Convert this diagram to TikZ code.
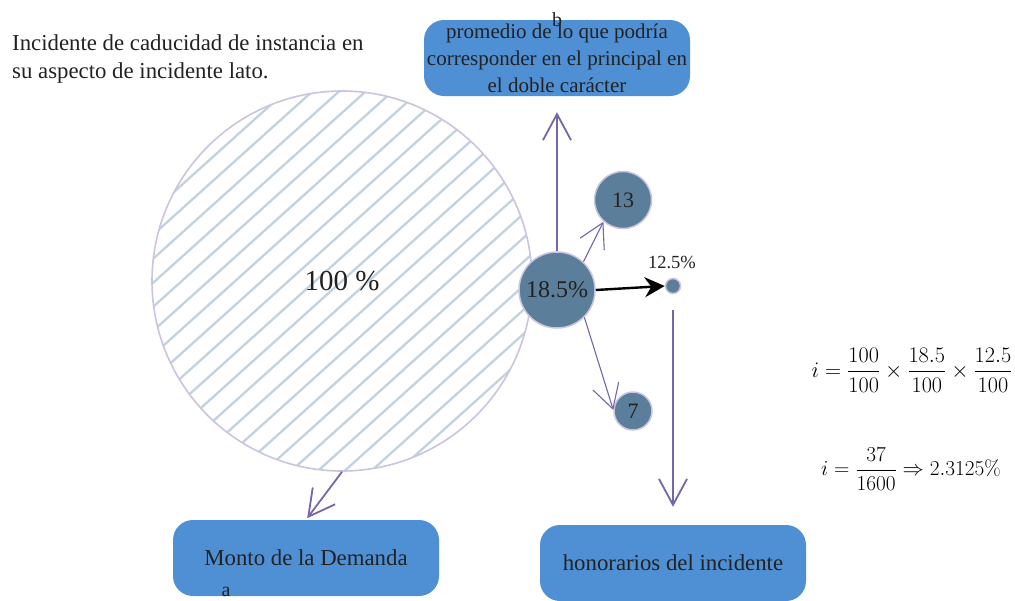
\RequirePackage{fix-cm}
\documentclass[tikz,border=0pt]{standalone}
\usepackage[no-math]{fontspec}
\setmainfont{Liberation Serif}
\usetikzlibrary{arrows.meta,calc}
\definecolor{boxblue}{HTML}{4F8FD4}
\definecolor{circfill}{HTML}{5B7E9B}
\definecolor{circline}{HTML}{CBC4E0}
\definecolor{arr}{HTML}{7466A9}
\definecolor{hatchc}{HTML}{C2D2DE}
\definecolor{txt}{HTML}{222222}
\begin{document}
\begin{tikzpicture}[x=1pt,y=-1pt,
  box/.style={rounded corners=20pt, fill=boxblue, minimum width=266pt, minimum height=76pt, inner sep=0pt, text=txt, align=center},
  bub/.style={circle, fill=circfill, draw=circline, line width=1.5pt, inner sep=0pt, text=txt},
  barb/.style={draw=arr, line width=1.8pt, -{Straight Barb[length=26pt,width=28pt]}},
  thinbarb/.style={draw=arr, line width=1.1pt, -{Straight Barb[length=24pt,width=27pt]}},
  lbl/.style={text=txt, inner sep=0pt, font=\fontsize{20}{24}\selectfont}]
\useasboundingbox (0,0) rectangle (1015,600);
\fill[white] (0,0) rectangle (1015,600);

% title
\node[anchor=west, align=left, inner sep=0pt, text=txt, font=\fontsize{22.8}{28}\selectfont] (title) at (12,59)
  {Incidente de caducidad de instancia en\\su aspecto de incidente lato.};

% big circle with hatching
\begin{scope}
  \clip (342,281) circle (190);
  \foreach \k in {-16,...,16} {
    \draw[hatchc, line width=2.3pt] ($(342,281)+(\k*26.7,0)+(-260,234)$) -- ++(520,-468);
  }
\end{scope}
\node[circle, draw=circline, line width=1.6pt, minimum size=380pt, inner sep=0pt, text=txt, font=\fontsize{29}{32}\selectfont] (big) at (342,281) {100 \%};

% boxes
\node[box, font=\fontsize{21}{27}\selectfont] (boxb) at (557,58) {promedio de lo que podría\\corresponder en el principal en\\el doble carácter};
\node[box, font=\fontsize{22.8}{26}\selectfont] (boxa) at (306,558) {Monto de la Demanda};
\node[box, font=\fontsize{22.8}{26}\selectfont] (boxc) at (673,563) {honorarios del incidente};

% labels of boxes
\node[lbl] (lb) at (557,20) {b};
\node[lbl] (la) at (226,592) {a};
\node[lbl] (lc) at (672,607) {c};

% bubbles
\node[bub, minimum size=76pt, font=\fontsize{24}{28}\selectfont] (c185) at (557,290) {18.5\%};
\node[bub, minimum size=57pt, font=\fontsize{22}{26}\selectfont] (c13) at (623,200) {13};
\node[bub, minimum size=38pt, font=\fontsize{22}{26}\selectfont] (c7) at (633,411) {7};
\node[bub, minimum size=15pt] (dot) at (673,286) {};
\node[text=txt, inner sep=0pt, font=\fontsize{18.5}{22}\selectfont] (l125) at (672,262) {12.5\%};

% connectors
\draw[barb, shorten >=16pt] (c185.north) -- (boxb.south);
\draw[barb, shorten >=2pt] (big.-90) -- (boxa.north);
\draw[barb, shorten <=16pt, shorten >=18pt] (dot.south) -- (boxc.north);
\draw[thinbarb] (c185.47) -- (c13.228);
\draw[thinbarb] (c185.-45) -- (c7.177);
\draw[black, line width=2.4pt, -{Stealth[length=20pt,width=20pt]}] (c185.east) -- (dot.west);

% equations
\node[text=black, inner sep=0pt, font=\fontsize{22.2}{26}\selectfont] (eq1) at (912,370)
  {$\displaystyle i=\frac{100}{100}\times\frac{18.5}{100}\times\frac{12.5}{100}$};
\node[text=black, inner sep=0pt, font=\fontsize{21.3}{26}\selectfont] (eq2) at (911,469)
  {$\displaystyle i=\frac{37}{1600}\Rightarrow 2.3125\%$};
\end{tikzpicture}
\end{document}
